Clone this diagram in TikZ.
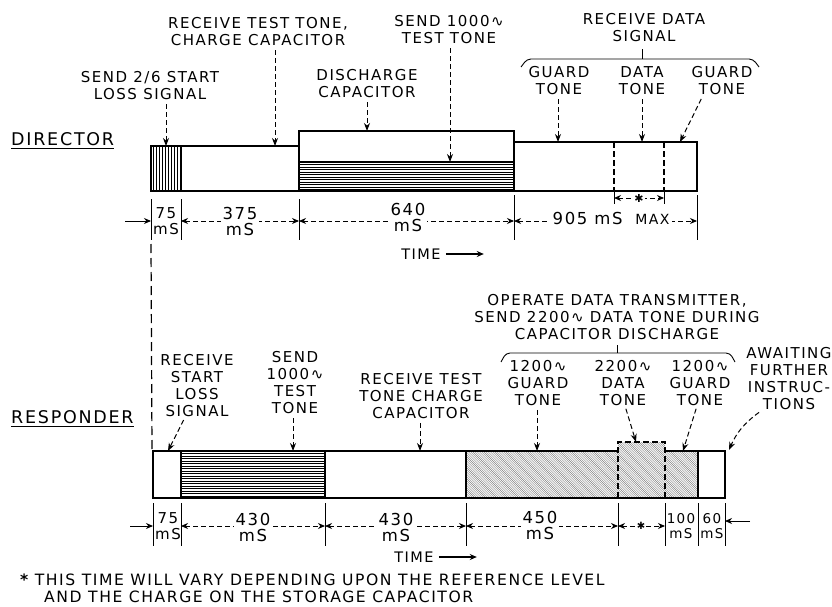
\documentclass[tikz,border=0pt]{standalone}
\usepackage{fontspec}
\setmainfont{DejaVu Sans}[LetterSpace=10]
\usetikzlibrary{arrows.meta}
\tikzset{
 lbl/.style={align=center, inner sep=0pt, font=\fontsize{15}{17}\selectfont},
 num/.style={align=center, inner sep=1.5pt, font=\fontsize{16.5}{16}\selectfont},
 bar/.style={line width=1.3pt},
 thinline/.style={line width=0.9pt},
 ptr/.style={line width=1pt, dash pattern=on 5pt off 3pt, -{Stealth[length=8pt,width=6pt]}},
 dimd/.style={line width=0.9pt, dash pattern=on 5pt off 3pt, {Stealth[length=7pt,width=6pt]}-{Stealth[length=7pt,width=6pt]}},
 dims/.style={line width=0.9pt, -{Stealth[length=7pt,width=6pt]}},
 tk/.style={line width=1pt},
 hl/.style={line width=0.65pt},
 dg/.style={line width=0.4pt, black!50},
 dsh/.style={line width=1.3pt, dash pattern=on 6pt off 3pt},
}
\begin{document}
\begin{tikzpicture}[x=1pt,y=-1pt]
\useasboundingbox[fill=white] (0,0) rectangle (832,607);

% ---------------- DIRECTOR ----------------
\node[lbl, anchor=west, font=\fontsize{17.5}{18}\selectfont] (dir) at (11,139) {DIRECTOR};
\draw[thinline] ([yshift=-3pt]dir.south west) -- ([yshift=-3pt]dir.south east);

% hatching
\begin{scope}
\clip (151,146) rectangle (181,191);
\foreach \x in {153,156,...,181} \draw[hl] (\x,146) -- (\x,191);
\end{scope}
\begin{scope}
\clip (299,162) rectangle (514,191);
\foreach \y in {164.5,167,...,191} \draw[hl] (299,\y) -- (514,\y);
\end{scope}
% outlines
\draw[bar] (151,146) rectangle (299,191);
\draw[bar] (181,146) -- (181,191);
\draw[bar] (299,131) rectangle (514,191);
\draw[bar] (299,162) -- (514,162);
\draw[bar] (514,142) rectangle (697,191);
\draw[dsh] (614,142) -- (614,191);
\draw[dsh] (664,142) -- (664,191);

% targets
\coordinate (a1) at (166,146);
\coordinate (a2) at (275,146);
\coordinate (a3) at (367,131);
\coordinate (a4) at (450,162);
\coordinate (a5) at (558,142);
\coordinate (a6) at (642,142);
\coordinate (a7) at (680,142);

\node[lbl] (send26) at (150,86) {SEND 2/6 START\\LOSS SIGNAL};
\node[lbl] (rtt) at (258,32) {RECEIVE TEST TONE,\\CHARGE CAPACITOR};
\node[lbl] (dcap) at (367,84) {DISCHARGE\\CAPACITOR};
\node[lbl] (s1000) at (449,30) {SEND 1000∿\\TEST TONE};
\node[lbl] (rds) at (644,28) {RECEIVE DATA\\SIGNAL};
\node[lbl] (gt1) at (559,81) {GUARD\\TONE};
\node[lbl] (dt) at (642,81) {DATA\\TONE};
\node[lbl] (gt2) at (722,81) {GUARD\\TONE};

\draw[ptr, shorten <=4pt] (send26.south -| a1) -- (a1);
\draw[ptr, shorten <=4pt] (rtt.south -| a2) -- (a2);
\draw[ptr, shorten <=4pt] (dcap.south -| a3) -- (a3);
\draw[ptr, shorten <=4pt] (s1000.south -| a4) -- (a4);
\draw[ptr, shorten <=4pt] (gt1.south -| a5) -- (a5);
\draw[ptr, shorten <=4pt] (dt.south -| a6) -- (a6);
\draw[ptr, shorten <=4pt] ([xshift=-19pt]gt2.south) -- (a7);

% brace
\draw[thinline, rounded corners=4pt] (521,67) -- (527,59) -- (753,59) -- (759,67);
\draw[thinline] (642,59) -- (642,49);

% dimensions
\foreach \x in {151,181,299} \draw[tk] (\x,199) -- (\x,240);
\foreach \x in {514,697} \draw[tk] (\x,195) -- (\x,240);
\draw[dims] (125,221) -- (151,221);
\node[num, inner sep=0pt, font=\fontsize{15}{15.5}\selectfont] (d75) at (166,221) {75\\mS};
\draw[dimd] (181,221) -- (299,221);
\node[num, fill=white] (d375) at (240,221) {375\\mS};
\draw[dimd] (299,221) -- (514,221);
\node[num, fill=white] (d640) at (408,217) {640\\mS};
\draw[dimd] (514,221) -- (697,221);
\node[num, fill=white, inner xsep=3pt] (d905) at (611,218) {905 mS {\fontsize{14}{14}\selectfont\ MAX}};
\draw[tk] (614,192) -- (614,204);
\draw[tk] (664,192) -- (664,204);
\draw[dimd] (614,198) -- (664,198);
\node[num, fill=white, inner sep=1pt, font=\fontsize{11}{11}\selectfont] (dst) at (639,198) {✱};

\node[lbl, font=\fontsize{14.5}{15}\selectfont] (time1) at (421,254) {TIME};
\draw[line width=1.6pt, -{Stealth[length=7pt,width=6pt]}] ([xshift=5pt]time1.east) -- ++(38,0);

% connecting dashed line
\draw[line width=1.2pt, dash pattern=on 9pt off 5pt] (151,244) -- (152,450);

% ---------------- RESPONDER ----------------
\node[lbl, anchor=west, font=\fontsize{17.5}{18}\selectfont] (resp) at (11,417) {RESPONDER};
\draw[thinline] ([yshift=-3pt]resp.south west) -- ([yshift=-3pt]resp.south east);

\begin{scope}
\clip (181,451) rectangle (325,498);
\foreach \y in {453.5,456,...,498} \draw[hl] (181,\y) -- (325,\y);
\end{scope}
\begin{scope}
\clip (466,451) -- (618,451) -- (618,442) -- (665,442) -- (665,451) -- (698,451) -- (698,498) -- (466,498) -- cycle;
\foreach \d in {-60,-57.8,...,240} \draw[dg] (466+\d,440) -- (466+\d+60,500);
\end{scope}
\draw[bar] (618,451) -- (153,451) -- (153,498) -- (725,498) -- (725,451) -- (665,451);
\foreach \x in {181,325,466,698} \draw[bar] (\x,451) -- (\x,498);
\draw[dsh] (618,498) -- (618,442) -- (665,442) -- (665,498);

\coordinate (b1) at (168,451);
\coordinate (b2) at (293,451);
\coordinate (b3) at (420,451);
\coordinate (b4) at (537,451);
\coordinate (b5) at (636,442);
\coordinate (b6) at (683,451);
\coordinate (b7) at (729,450);

\node[lbl] (rsl) at (197,386) {RECEIVE\\START\\LOSS\\SIGNAL};
\node[lbl] (s1000r) at (295,383) {SEND\\1000∿\\TEST\\TONE};
\node[lbl] (rttc) at (421,396) {RECEIVE TEST\\TONE CHARGE\\CAPACITOR};
\node[lbl] (op) at (617,317) {OPERATE DATA TRANSMITTER,\\SEND 2200∿ DATA TONE DURING\\CAPACITOR DISCHARGE};
\node[lbl] (g1a) at (538,383) {1200∿\\GUARD\\TONE};
\node[lbl] (d22) at (623,383) {2200∿\\DATA\\TONE};
\node[lbl] (g1b) at (700,383) {1200∿\\GUARD\\TONE};
\node[lbl] (aw) at (789,379) {AWAITING\\FURTHER\\INSTRUC-\\TIONS};

\draw[ptr, shorten <=3pt] ([xshift=-12pt]rsl.south) -- (b1);
\draw[ptr, shorten <=4pt] (s1000r.south -| b2) -- (b2);
\draw[ptr, shorten <=4pt] (rttc.south -| b3) -- (b3);
\draw[ptr, shorten <=4pt] (g1a.south -| b4) -- (b4);
\draw[ptr, shorten <=3pt] ([xshift=2pt]d22.south) -- (b5);
\draw[ptr, shorten <=3pt] ([xshift=-3pt]g1b.south) -- (b6);
\draw[ptr] ([xshift=-30pt,yshift=-2pt]aw.south) to[bend right=15] (b7);

\draw[thinline, rounded corners=4pt] (501,362) -- (506,353) -- (730,353) -- (735,362);
\draw[thinline] (617,353) -- (617,345);

\foreach \x in {153,181,325,466,618,665,698,725} \draw[tk] (\x,503) -- (\x,546);
\draw[dims] (130,526) -- (153,526);
\node[num, inner sep=0pt, font=\fontsize{15}{15.5}\selectfont] (r75) at (168,526) {75\\mS};
\draw[dimd] (181,526) -- (325,526);
\node[num, fill=white] (r430a) at (253,527) {430\\mS};
\draw[dimd] (325,526) -- (466,526);
\node[num, fill=white] (r430b) at (396,527) {430\\mS};
\draw[dimd] (466,526) -- (618,526);
\node[num, fill=white] (r450) at (540,525) {450\\mS};
\draw[dimd] (618,526) -- (665,526);
\node[num, fill=white, inner sep=1pt, font=\fontsize{10}{10}\selectfont] (rst) at (641,526) {✱};
\node[num, inner sep=0pt, font=\fontsize{13.5}{15.5}\selectfont] (r100) at (681,526) {100\\mS};
\node[num, inner sep=0pt, font=\fontsize{13.5}{15.5}\selectfont] (r60) at (712,526) {60\\mS};
\draw[dims] (750,521) -- (725,521);

\node[lbl, font=\fontsize{14.5}{15}\selectfont] (time2) at (414,557) {TIME};
\draw[line width=1.6pt, -{Stealth[length=7pt,width=6pt]}] ([xshift=5pt]time2.east) -- ++(38,0);

% footnote
\node[lbl, anchor=west, font=\fontsize{15.6}{17}\selectfont] (fn1) at (20,580) {{\bfseries *} THIS TIME WILL VARY DEPENDING UPON THE REFERENCE LEVEL};
\node[lbl, anchor=west, font=\fontsize{15.6}{17}\selectfont] (fn2) at (44,597) {AND THE CHARGE ON THE STORAGE CAPACITOR};
\end{tikzpicture}
\end{document}
